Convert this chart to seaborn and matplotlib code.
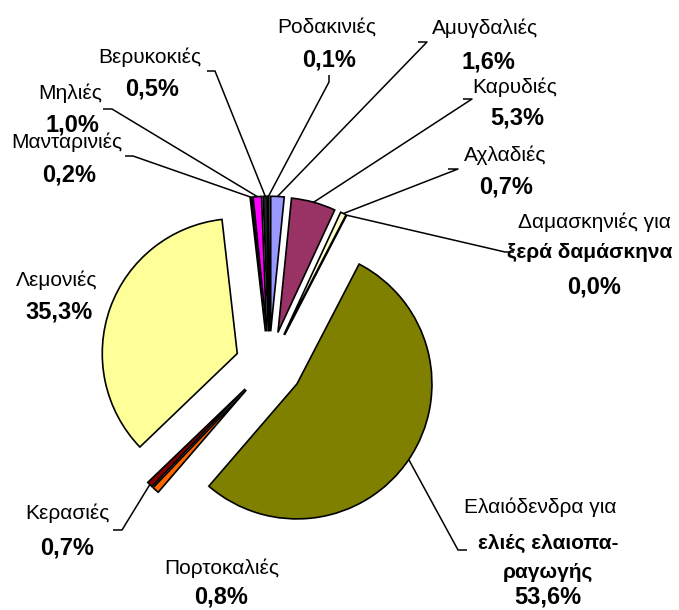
import matplotlib
matplotlib.use("Agg")
import matplotlib.pyplot as plt
import numpy as np
import seaborn as sns

# Tree-crop area shares (%), clockwise from 12 o'clock
categories = [
    "Αμυγδαλιές", "Καρυδιές", "Αχλαδιές",
    "Δαμασκηνιές για ξερά δαμάσκηνα",
    "Ελαιόδενδρα για ελιές ελαιοπαραγωγής",
    "Πορτοκαλιές", "Κερασιές", "Λεμονιές",
    "Μανταρινιές", "Μηλιές", "Βερυκοκιές", "Ροδακινιές",
]
shares = [1.6, 5.3, 0.7, 0.0, 53.6, 0.8, 0.7, 35.3, 0.2, 1.0, 0.5, 0.1]
colors = [
    "#9999FF", "#993366", "#FFFFCC", "#CCFFFF", "#808000", "#FF6600",
    "#800000", "#FFFF99", "#000080", "#FF00FF", "#222222", "#FFFFFF",
]
# Label text lines (text, bold) shown above the percentage
label_lines = [
    [("Αμυγδαλιές", False)],
    [("Καρυδιές", False)],
    [("Αχλαδιές", False)],
    [("Δαμασκηνιές για", False), ("ξερά δαμάσκηνα", True)],
    [("Ελαιόδενδρα για", False), ("ελιές ελαιοπα-", True), ("ραγωγής", True)],
    [("Πορτοκαλιές", False)],
    [("Κερασιές", False)],
    [("Λεμονιές", False)],
    [("Μανταρινιές", False)],
    [("Μηλιές", False)],
    [("Βερυκοκιές", False)],
    [("Ροδακινιές", False)],
]

W, H = 679, 610

# Label layout in pixel coordinates (origin top-left):
# x centre, y of each text line (last is the percentage), leader tick (x0, x1, y) or None
layout = [
    dict(x=[485, 488], y=[28, 62], tick=(427, 418, 42)),
    dict(x=[515, 517], y=[87, 118], tick=(472, 463, 99)),
    dict(x=[505, 506], y=[155, 187], tick=(458, 448, 169)),
    dict(x=[594, 590, 594], y=[222, 253, 287], tick=(505, 514, 252)),
    dict(x=[540, 548, 548, 548], y=[507, 543, 572, 597], tick=(458, 467, 550)),
    dict(x=[222, 221], y=[568, 597], tick=None),
    dict(x=[67, 67], y=[513, 548], tick=(122, 113, 530)),
    dict(x=[57, 59], y=[280, 312], tick=None),
    dict(x=[67, 69], y=[142, 175], tick=(133, 125, 156)),
    dict(x=[70, 72], y=[93, 125], tick=(112, 103, 109)),
    dict(x=[150, 152], y=[57, 89], tick=(215, 207, 71)),
    dict(x=[327, 329], y=[27, 60], tick="v"),
]

sns.set_style("white")
plt.rcParams["font.family"] = ["Liberation Sans", "DejaVu Sans"]

fig = plt.figure(figsize=(W / 100, H / 100), dpi=100)
ax = fig.add_axes([0, 0, 1, 1])

pie_center = (269, H - 365)
pie_radius = 135
wedges, _ = ax.pie(
    shares,
    colors=colors,
    explode=[0.25 * pie_radius] * len(shares),
    radius=pie_radius,
    center=pie_center,
    startangle=90,
    counterclock=False,
    wedgeprops=dict(edgecolor="black", linewidth=1.2),
)
ax.set_xlim(0, W)
ax.set_ylim(0, H)
ax.set_aspect("equal")
ax.axis("off")


def pct_text(v):
    return f"{v:.1f}%".replace(".", ",")


for wedge, lines, value, lay in zip(wedges, label_lines, shares, layout):
    texts = lines + [(pct_text(value), True)]
    n = len(texts)
    for i, ((txt, bold), x, y) in enumerate(zip(texts, lay["x"], lay["y"])):
        size = 17 if i == n - 1 else 15
        ax.text(x, H - y, txt, ha="center", va="center", fontsize=size,
                fontweight="bold" if bold else "normal", color="black")

    tick = lay["tick"]
    if tick is None:
        continue
    mid = np.deg2rad((wedge.theta1 + wedge.theta2) / 2)
    cx, cy = wedge.center
    ax_pt = (cx + wedge.r * np.cos(mid), cy + wedge.r * np.sin(mid))
    if tick == "v":
        xs = [lay["x"][1], lay["x"][1], ax_pt[0]]
        ys = [H - 75, H - 82, ax_pt[1]]
    else:
        x0, x1, ty = tick
        xs = [x1, x0, ax_pt[0]]
        ys = [H - ty, H - ty, ax_pt[1]]
    ax.plot(xs, ys, color="black", lw=1.1, solid_capstyle="butt")

fig.savefig("out.png", dpi=100)
